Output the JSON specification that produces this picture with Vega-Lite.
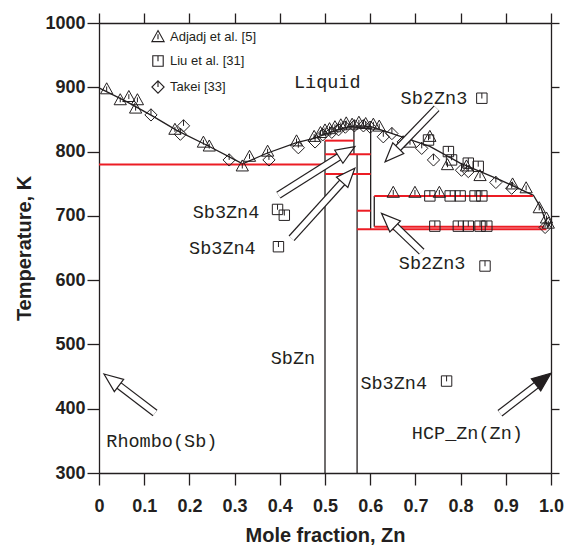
{
  "$schema": "https://vega.github.io/schema/vega-lite/v6.json",
  "width": 452,
  "height": 450,
  "autosize": {"type": "none"},
  "padding": {"left": 99, "top": 23, "right": 16, "bottom": 72},
  "background": "white",
  "config": {
    "view": {"stroke": null},
    "axis": {
      "grid": false,
      "domainColor": "#231f20",
      "tickColor": "#231f20",
      "domainWidth": 1.3,
      "tickWidth": 1.3,
      "labelFont": "Liberation Sans",
      "labelFontWeight": "bold",
      "labelFontSize": 18,
      "labelColor": "#231f20",
      "titleFont": "Liberation Sans",
      "titleFontWeight": "bold",
      "titleFontSize": 20,
      "titleColor": "#231f20",
      "labelOverlap": false,
      "labelFlush": false
    }
  },
  "datasets": {
    "lines": [
      {"id": "liq", "kind": "boundary", "ord": 1, "x": 0.0, "T": 899},
      {"id": "liq", "kind": "boundary", "ord": 2, "x": 0.06, "T": 878},
      {"id": "liq", "kind": "boundary", "ord": 3, "x": 0.117, "T": 856},
      {"id": "liq", "kind": "boundary", "ord": 4, "x": 0.172, "T": 833},
      {"id": "liq", "kind": "boundary", "ord": 5, "x": 0.241, "T": 809},
      {"id": "liq", "kind": "boundary", "ord": 6, "x": 0.301, "T": 787},
      {"id": "liq", "kind": "boundary", "ord": 7, "x": 0.318, "T": 781},
      {"id": "liq", "kind": "boundary", "ord": 8, "x": 0.37, "T": 797},
      {"id": "liq", "kind": "boundary", "ord": 9, "x": 0.437, "T": 814},
      {"id": "liq", "kind": "boundary", "ord": 10, "x": 0.478, "T": 821},
      {"id": "liq", "kind": "boundary", "ord": 11, "x": 0.5, "T": 827},
      {"id": "liq", "kind": "boundary", "ord": 12, "x": 0.53, "T": 834},
      {"id": "liq", "kind": "boundary", "ord": 13, "x": 0.555, "T": 839},
      {"id": "liq", "kind": "boundary", "ord": 14, "x": 0.575, "T": 840},
      {"id": "liq", "kind": "boundary", "ord": 15, "x": 0.6, "T": 839},
      {"id": "liq", "kind": "boundary", "ord": 16, "x": 0.644, "T": 829},
      {"id": "liq", "kind": "boundary", "ord": 17, "x": 0.732, "T": 808},
      {"id": "liq", "kind": "boundary", "ord": 18, "x": 0.799, "T": 782},
      {"id": "liq", "kind": "boundary", "ord": 19, "x": 0.887, "T": 756},
      {"id": "liq", "kind": "boundary", "ord": 20, "x": 0.961, "T": 732},
      {"id": "liq", "kind": "boundary", "ord": 21, "x": 0.978, "T": 712},
      {"id": "liq", "kind": "boundary", "ord": 22, "x": 0.993, "T": 682},
      {"id": "liq", "kind": "boundary", "ord": 23, "x": 1.0, "T": 692},
      {"id": "v1", "kind": "boundary", "ord": 1, "x": 0.5, "T": 300},
      {"id": "v1", "kind": "boundary", "ord": 2, "x": 0.5, "T": 817},
      {"id": "v2", "kind": "boundary", "ord": 1, "x": 0.564, "T": 796},
      {"id": "v2", "kind": "boundary", "ord": 2, "x": 0.564, "T": 837},
      {"id": "v2", "kind": "boundary", "ord": 3, "x": 0.601, "T": 837},
      {"id": "v2", "kind": "boundary", "ord": 4, "x": 0.601, "T": 678},
      {"id": "v3", "kind": "boundary", "ord": 1, "x": 0.571, "T": 300},
      {"id": "v3", "kind": "boundary", "ord": 2, "x": 0.571, "T": 796},
      {"id": "v4", "kind": "boundary", "ord": 1, "x": 0.609, "T": 731},
      {"id": "v4", "kind": "boundary", "ord": 2, "x": 0.609, "T": 683},
      {"id": "r1", "kind": "invariant", "ord": 1, "x": 0.0, "T": 780},
      {"id": "r1", "kind": "invariant", "ord": 2, "x": 0.5, "T": 780},
      {"id": "r2", "kind": "invariant", "ord": 1, "x": 0.5, "T": 817},
      {"id": "r2", "kind": "invariant", "ord": 2, "x": 0.564, "T": 817},
      {"id": "r3", "kind": "invariant", "ord": 1, "x": 0.5, "T": 796},
      {"id": "r3", "kind": "invariant", "ord": 2, "x": 0.601, "T": 796},
      {"id": "r4", "kind": "invariant", "ord": 1, "x": 0.5, "T": 765},
      {"id": "r4", "kind": "invariant", "ord": 2, "x": 0.601, "T": 765},
      {"id": "r5", "kind": "invariant", "ord": 1, "x": 0.571, "T": 708},
      {"id": "r5", "kind": "invariant", "ord": 2, "x": 0.601, "T": 708},
      {"id": "r6", "kind": "invariant", "ord": 1, "x": 0.609, "T": 731},
      {"id": "r6", "kind": "invariant", "ord": 2, "x": 0.96, "T": 731},
      {"id": "r7", "kind": "invariant", "ord": 1, "x": 0.609, "T": 683},
      {"id": "r7", "kind": "invariant", "ord": 2, "x": 0.985, "T": 683},
      {"id": "r8", "kind": "invariant", "ord": 1, "x": 0.571, "T": 679},
      {"id": "r8", "kind": "invariant", "ord": 2, "x": 0.99, "T": 679}
    ],
    "pts": [
      {"source": "Adjadj et al. [5]", "x": 0.017, "T": 897},
      {"source": "Adjadj et al. [5]", "x": 0.047, "T": 880},
      {"source": "Adjadj et al. [5]", "x": 0.066, "T": 885},
      {"source": "Adjadj et al. [5]", "x": 0.085, "T": 880},
      {"source": "Adjadj et al. [5]", "x": 0.081, "T": 867},
      {"source": "Adjadj et al. [5]", "x": 0.168, "T": 834},
      {"source": "Adjadj et al. [5]", "x": 0.231, "T": 814},
      {"source": "Adjadj et al. [5]", "x": 0.244, "T": 808},
      {"source": "Adjadj et al. [5]", "x": 0.317, "T": 777},
      {"source": "Adjadj et al. [5]", "x": 0.333, "T": 792},
      {"source": "Adjadj et al. [5]", "x": 0.373, "T": 800},
      {"source": "Adjadj et al. [5]", "x": 0.437, "T": 816},
      {"source": "Adjadj et al. [5]", "x": 0.476, "T": 823},
      {"source": "Adjadj et al. [5]", "x": 0.49, "T": 829},
      {"source": "Adjadj et al. [5]", "x": 0.5, "T": 833},
      {"source": "Adjadj et al. [5]", "x": 0.51, "T": 835},
      {"source": "Adjadj et al. [5]", "x": 0.522, "T": 838},
      {"source": "Adjadj et al. [5]", "x": 0.535, "T": 841},
      {"source": "Adjadj et al. [5]", "x": 0.547, "T": 844},
      {"source": "Adjadj et al. [5]", "x": 0.56, "T": 842},
      {"source": "Adjadj et al. [5]", "x": 0.575, "T": 845},
      {"source": "Adjadj et al. [5]", "x": 0.59, "T": 843},
      {"source": "Adjadj et al. [5]", "x": 0.607, "T": 842},
      {"source": "Adjadj et al. [5]", "x": 0.62, "T": 839},
      {"source": "Adjadj et al. [5]", "x": 0.688, "T": 814},
      {"source": "Adjadj et al. [5]", "x": 0.732, "T": 823},
      {"source": "Adjadj et al. [5]", "x": 0.771, "T": 779},
      {"source": "Adjadj et al. [5]", "x": 0.813, "T": 777},
      {"source": "Adjadj et al. [5]", "x": 0.843, "T": 762},
      {"source": "Adjadj et al. [5]", "x": 0.915, "T": 749},
      {"source": "Adjadj et al. [5]", "x": 0.945, "T": 743},
      {"source": "Adjadj et al. [5]", "x": 0.974, "T": 712},
      {"source": "Adjadj et al. [5]", "x": 0.99, "T": 696},
      {"source": "Adjadj et al. [5]", "x": 0.994, "T": 688},
      {"source": "Adjadj et al. [5]", "x": 0.651, "T": 736},
      {"source": "Adjadj et al. [5]", "x": 0.699, "T": 736},
      {"source": "Adjadj et al. [5]", "x": 0.753, "T": 736},
      {"source": "Liu et al. [31]", "x": 0.729, "T": 818},
      {"source": "Liu et al. [31]", "x": 0.773, "T": 800},
      {"source": "Liu et al. [31]", "x": 0.78, "T": 787},
      {"source": "Liu et al. [31]", "x": 0.817, "T": 782},
      {"source": "Liu et al. [31]", "x": 0.839, "T": 777},
      {"source": "Liu et al. [31]", "x": 0.732, "T": 731},
      {"source": "Liu et al. [31]", "x": 0.777, "T": 731},
      {"source": "Liu et al. [31]", "x": 0.799, "T": 731},
      {"source": "Liu et al. [31]", "x": 0.832, "T": 731},
      {"source": "Liu et al. [31]", "x": 0.847, "T": 731},
      {"source": "Liu et al. [31]", "x": 0.743, "T": 684},
      {"source": "Liu et al. [31]", "x": 0.795, "T": 684},
      {"source": "Liu et al. [31]", "x": 0.817, "T": 684},
      {"source": "Liu et al. [31]", "x": 0.843, "T": 684},
      {"source": "Liu et al. [31]", "x": 0.858, "T": 684},
      {"source": "Liu et al. [31]", "x": 0.847, "T": 883},
      {"source": "Liu et al. [31]", "x": 0.854, "T": 622},
      {"source": "Liu et al. [31]", "x": 0.395, "T": 710},
      {"source": "Liu et al. [31]", "x": 0.41, "T": 701},
      {"source": "Liu et al. [31]", "x": 0.397, "T": 652},
      {"source": "Liu et al. [31]", "x": 0.769, "T": 443},
      {"source": "Takei [33]", "x": 0.115, "T": 857},
      {"source": "Takei [33]", "x": 0.187, "T": 840},
      {"source": "Takei [33]", "x": 0.18, "T": 827},
      {"source": "Takei [33]", "x": 0.288, "T": 787},
      {"source": "Takei [33]", "x": 0.376, "T": 787},
      {"source": "Takei [33]", "x": 0.441, "T": 806},
      {"source": "Takei [33]", "x": 0.478, "T": 815},
      {"source": "Takei [33]", "x": 0.495, "T": 826},
      {"source": "Takei [33]", "x": 0.515, "T": 830},
      {"source": "Takei [33]", "x": 0.53, "T": 834},
      {"source": "Takei [33]", "x": 0.545, "T": 838},
      {"source": "Takei [33]", "x": 0.565, "T": 840},
      {"source": "Takei [33]", "x": 0.585, "T": 840},
      {"source": "Takei [33]", "x": 0.6, "T": 838},
      {"source": "Takei [33]", "x": 0.629, "T": 823},
      {"source": "Takei [33]", "x": 0.648, "T": 828},
      {"source": "Takei [33]", "x": 0.673, "T": 815},
      {"source": "Takei [33]", "x": 0.714, "T": 805},
      {"source": "Takei [33]", "x": 0.74, "T": 787},
      {"source": "Takei [33]", "x": 0.802, "T": 771},
      {"source": "Takei [33]", "x": 0.817, "T": 769},
      {"source": "Takei [33]", "x": 0.878, "T": 752},
      {"source": "Takei [33]", "x": 0.913, "T": 743},
      {"source": "Takei [33]", "x": 0.987, "T": 682}
    ],
    "labels": [
      {"label": "Liquid", "x": 0.505, "T": 908},
      {"label": "Sb2Zn3", "x": 0.741, "T": 883},
      {"label": "Sb3Zn4", "x": 0.281, "T": 706},
      {"label": "Sb3Zn4", "x": 0.273, "T": 650},
      {"label": "Sb2Zn3", "x": 0.737, "T": 627},
      {"label": "SbZn", "x": 0.429, "T": 479},
      {"label": "Sb3Zn4", "x": 0.652, "T": 440},
      {"label": "HCP_Zn(Zn)", "x": 0.815, "T": 362},
      {"label": "Rhombo(Sb)", "x": 0.139, "T": 350}
    ],
    "arrows": [
      {"id": 1, "x": 0.397, "T": 732.4, "xe": 0.544, "Te": 797.7, "xt": 0.566, "Tt": 807.6},
      {"id": 2, "x": 0.426, "T": 665.1, "xe": 0.5486, "Te": 760.1, "xt": 0.566, "Tt": 774},
      {"id": 3, "x": 0.747, "T": 867.3, "xe": 0.651, "Te": 797.6, "xt": 0.633, "Tt": 784.2},
      {"id": 4, "x": 0.714, "T": 644.2, "xe": 0.6446, "Te": 691.0, "xt": 0.625, "Tt": 703.9},
      {"id": 5, "x": 0.124, "T": 393.3, "xe": 0.0321, "Te": 442.6, "xt": 0.011, "Tt": 454},
      {"id": 6, "x": 0.887, "T": 392.9, "xe": 0.9805, "Te": 443.7, "xt": 1.0, "Tt": 455.1}
    ]
  },
  "resolve": {"axis": {"x": "independent", "y": "independent"}},
  "layer": [
    {
      "data": {"name": "lines"},
      "transform": [{"filter": "datum.kind == 'boundary'"}],
      "mark": {"type": "line", "strokeWidth": 1.3, "color": "#231f20"},
      "encoding": {
        "x": {"field": "x", "type": "quantitative", "scale": {"domain": [0, 1], "nice": false, "zero": false},
          "axis": {"orient": "bottom", "values": [0, 0.1, 0.2, 0.3, 0.4, 0.5, 0.6, 0.7, 0.8, 0.9, 1.0],
            "labelExpr": "datum.value == 0 ? '0' : format(datum.value, '.1f')",
            "title": "Mole fraction, Zn", "tickSize": 12, "labelPadding": 12, "titlePadding": 10}},
        "y": {"field": "T", "type": "quantitative", "scale": {"domain": [300, 1000], "nice": false, "zero": false},
          "axis": {"orient": "left", "values": [300, 400, 500, 600, 700, 800, 900, 1000], "format": "d",
            "title": "Temperature, K", "tickSize": 12, "labelPadding": 2, "titlePadding": 10}},
        "detail": {"field": "id"},
        "order": {"field": "ord", "type": "quantitative"}
      }
    },
    {
      "data": {"name": "lines"},
      "transform": [{"filter": "datum.kind == 'invariant'"}],
      "mark": {"type": "line", "strokeWidth": 2, "color": "#ec1c24"},
      "encoding": {
        "x": {"field": "x", "type": "quantitative", "axis": null},
        "y": {"field": "T", "type": "quantitative", "axis": null},
        "detail": {"field": "id"},
        "order": {"field": "ord", "type": "quantitative"}
      }
    },
    {
      "data": {"name": "pts"},
      "mark": {"type": "point", "filled": false, "stroke": "#231f20", "strokeWidth": 1, "size": 150, "opacity": 1},
      "encoding": {
        "x": {"field": "x", "type": "quantitative", "scale": {"domain": [0, 1], "nice": false, "zero": false},
          "axis": {"orient": "top", "values": [0, 0.1, 0.2, 0.3, 0.4, 0.5, 0.6, 0.7, 0.8, 0.9, 1.0], "labels": false, "title": null, "tickSize": 10}},
        "y": {"field": "T", "type": "quantitative", "scale": {"domain": [300, 1000], "nice": false, "zero": false},
          "axis": {"orient": "right", "values": [300, 400, 500, 600, 700, 800, 900, 1000], "labels": false, "title": null, "tickSize": 8}},
        "shape": {"field": "source", "type": "nominal",
          "scale": {"domain": ["Adjadj et al. [5]", "Liu et al. [31]", "Takei [33]"],
            "range": ["M0,-1.05L1,0.75L-1,0.75Z M0,-0.45L0,0.35", "M-0.85,-0.85L0.85,-0.85L0.85,0.85L-0.85,0.85Z M0,-0.85L0,0.05", "M0,-1L1,0L0,1L-1,0Z M0,-1L0,0"]},
          "legend": {"orient": "none", "legendX": 52, "legendY": 7, "title": null, "padding": 0,
            "symbolSize": 150, "symbolStrokeColor": "#231f20", "symbolFillColor": "transparent", "symbolStrokeWidth": 1.1,
            "labelFont": "Liberation Sans", "labelFontSize": 13, "labelColor": "#231f20", "labelOffset": 5, "rowPadding": 9}}
      }
    },
    {
      "data": {"name": "arrows"},
      "mark": {"type": "rule", "stroke": "#231f20", "strokeWidth": 8, "strokeCap": "butt"},
      "encoding": {
        "x": {"field": "x", "type": "quantitative", "axis": null},
        "y": {"field": "T", "type": "quantitative", "axis": null},
        "x2": {"field": "xe"},
        "y2": {"field": "Te"}
      }
    },
    {
      "data": {"name": "arrows"},
      "mark": {"type": "rule", "stroke": "white", "strokeWidth": 5.6, "strokeCap": "butt"},
      "encoding": {
        "x": {"field": "x", "type": "quantitative", "axis": null},
        "y": {"field": "T", "type": "quantitative", "axis": null},
        "x2": {"field": "xe"},
        "y2": {"field": "Te"}
      }
    },
    {
      "data": {"name": "arrows"},
      "transform": [{"filter": "datum.id == 1"}],
      "mark": {"type": "point", "shape": "M0,0L0.85,2.1L-0.85,2.1Z", "size": 324, "filled": true, "fill": "white", "stroke": "#231f20", "strokeWidth": 1.2, "opacity": 1, "angle": 57.8},
      "encoding": {"x": {"field": "xt", "type": "quantitative", "axis": null}, "y": {"field": "Tt", "type": "quantitative", "axis": null}}
    },
    {
      "data": {"name": "arrows"},
      "transform": [{"filter": "datum.id == 2"}],
      "mark": {"type": "point", "shape": "M0,0L0.85,2.1L-0.85,2.1Z", "size": 324, "filled": true, "fill": "white", "stroke": "#231f20", "strokeWidth": 1.2, "opacity": 1, "angle": 42.1},
      "encoding": {"x": {"field": "xt", "type": "quantitative", "axis": null}, "y": {"field": "Tt", "type": "quantitative", "axis": null}}
    },
    {
      "data": {"name": "arrows"},
      "transform": [{"filter": "datum.id == 3"}],
      "mark": {"type": "point", "shape": "M0,0L0.85,2.1L-0.85,2.1Z", "size": 324, "filled": true, "fill": "white", "stroke": "#231f20", "strokeWidth": 1.2, "opacity": 1, "angle": 224.1},
      "encoding": {"x": {"field": "xt", "type": "quantitative", "axis": null}, "y": {"field": "Tt", "type": "quantitative", "axis": null}}
    },
    {
      "data": {"name": "arrows"},
      "transform": [{"filter": "datum.id == 4"}],
      "mark": {"type": "point", "shape": "M0,0L0.85,2.1L-0.85,2.1Z", "size": 324, "filled": true, "fill": "white", "stroke": "#231f20", "strokeWidth": 1.2, "opacity": 1, "angle": 313.8},
      "encoding": {"x": {"field": "xt", "type": "quantitative", "axis": null}, "y": {"field": "Tt", "type": "quantitative", "axis": null}}
    },
    {
      "data": {"name": "arrows"},
      "transform": [{"filter": "datum.id == 5"}],
      "mark": {"type": "point", "shape": "M0,0L0.85,2.1L-0.85,2.1Z", "size": 324, "filled": true, "fill": "white", "stroke": "#231f20", "strokeWidth": 1.2, "opacity": 1, "angle": 307.4},
      "encoding": {"x": {"field": "xt", "type": "quantitative", "axis": null}, "y": {"field": "Tt", "type": "quantitative", "axis": null}}
    },
    {
      "data": {"name": "arrows"},
      "transform": [{"filter": "datum.id == 6"}],
      "mark": {"type": "point", "shape": "M0,0L0.85,2.1L-0.85,2.1Z", "size": 324, "filled": true, "fill": "#231f20", "stroke": "#231f20", "strokeWidth": 1.2, "opacity": 1, "angle": 52.3},
      "encoding": {"x": {"field": "xt", "type": "quantitative", "axis": null}, "y": {"field": "Tt", "type": "quantitative", "axis": null}}
    },
    {
      "data": {"name": "labels"},
      "mark": {"type": "text", "font": "Liberation Mono", "fontSize": 18.5, "color": "#231f20", "align": "center", "baseline": "middle"},
      "encoding": {
        "x": {"field": "x", "type": "quantitative", "axis": null},
        "y": {"field": "T", "type": "quantitative", "axis": null},
        "text": {"field": "label"}
      }
    }
  ]
}
